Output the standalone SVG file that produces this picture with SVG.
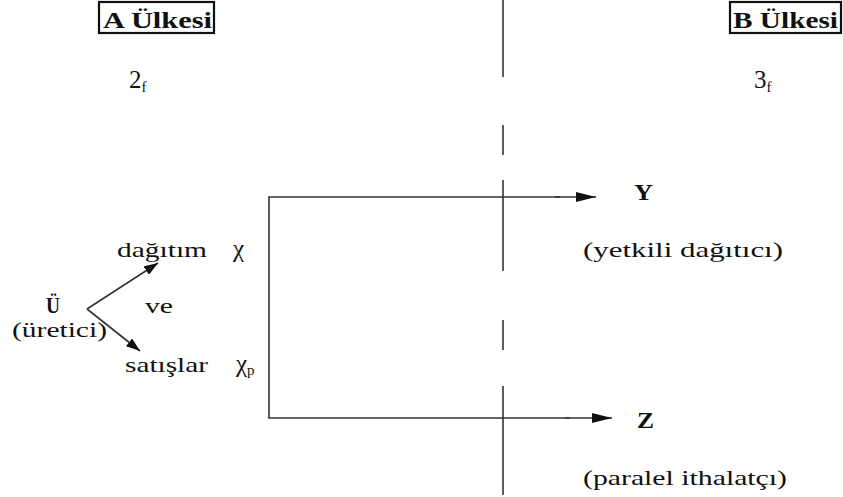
<svg xmlns="http://www.w3.org/2000/svg" width="843" height="497" viewBox="0 0 843 497">
<style>
text{font-family:'Liberation Serif','DejaVu Serif',serif;font-size:22px;fill:#111}
.b{font-weight:bold;font-size:23px}
.big{font-size:25px}
.sub{font-size:15px}
.ln{stroke:#333;stroke-width:1.6;fill:none}
.box{stroke:#111;stroke-width:2.2;fill:none}
</style>
<defs>
<marker id="ah" markerWidth="14" markerHeight="10" refX="14" refY="5" orient="auto" markerUnits="userSpaceOnUse" viewBox="0 0 14 10">
<path d="M0,0 L14,5 L0,10 Z" fill="#111"/>
</marker>
<marker id="ahL" markerWidth="20" markerHeight="10" refX="20" refY="5" orient="auto" markerUnits="userSpaceOnUse" viewBox="0 0 20 10">
<path d="M0,0 L20,5 L0,10 Z" fill="#111"/>
</marker>
</defs>
<rect width="843" height="497" fill="#fff"/>
<g id="countryA">
<rect class="box" x="99" y="2" width="115" height="31"/>
<text class="b" x="103" y="28" textLength="109" lengthAdjust="spacingAndGlyphs">A Ülkesi</text>
<text class="big" x="129" y="88">2<tspan class="sub" dy="4">f</tspan></text>
</g>
<g id="countryB">
<rect class="box" x="730" y="2" width="111" height="31"/>
<text class="b" x="733" y="28" textLength="105" lengthAdjust="spacingAndGlyphs">B Ülkesi</text>
<text class="big" x="754" y="88">3<tspan class="sub" dy="4">f</tspan></text>
</g>
<g id="border">
<line class="ln" x1="503" y1="0" x2="503" y2="77"/>
<line class="ln" x1="503" y1="125" x2="503" y2="155"/>
<line class="ln" x1="503" y1="180" x2="503" y2="271"/>
<line class="ln" x1="503" y1="320" x2="503" y2="350"/>
<line class="ln" x1="503" y1="386" x2="503" y2="495"/>
</g>
<g id="producer">
<text class="b" x="46" y="313" textLength="14" lengthAdjust="spacingAndGlyphs">Ü</text>
<text x="12" y="337" textLength="95" lengthAdjust="spacingAndGlyphs">(üretici)</text>
</g>
<g id="distribution">
<text x="117" y="257" textLength="90" lengthAdjust="spacingAndGlyphs">dağıtım</text>
<text class="big" x="233" y="257">χ</text>
</g>
<g id="and"><text x="145" y="313" textLength="28" lengthAdjust="spacingAndGlyphs">ve</text></g>
<g id="sales">
<text x="125" y="372" textLength="83" lengthAdjust="spacingAndGlyphs">satışlar</text>
<text class="big" x="236" y="372">χ<tspan class="sub" dy="3">p</tspan></text>
</g>
<g id="Y">
<text class="b" x="634" y="200" textLength="19" lengthAdjust="spacingAndGlyphs">Y</text>
<text x="583" y="257" textLength="200" lengthAdjust="spacingAndGlyphs">(yetkili dağıtıcı)</text>
</g>
<g id="Z">
<text class="b" x="637" y="428" textLength="17" lengthAdjust="spacingAndGlyphs">Z</text>
<text x="583" y="485" textLength="204" lengthAdjust="spacingAndGlyphs">(paralel ithalatçı)</text>
</g>
<g id="connectors">
<line class="ln" x1="87" y1="309" x2="158" y2="263" marker-end="url(#ah)" stroke="#111" stroke-width="2"/>
<line class="ln" x1="87" y1="309" x2="140" y2="351" marker-end="url(#ah)" stroke="#111" stroke-width="2"/>
<polyline class="ln" points="560,197 269,197 269,418 570,418"/>
<line class="ln" x1="555" y1="197" x2="596" y2="197" marker-end="url(#ahL)"/>
<line class="ln" x1="565" y1="418" x2="612" y2="418" marker-end="url(#ahL)"/>
</g>
</svg>
